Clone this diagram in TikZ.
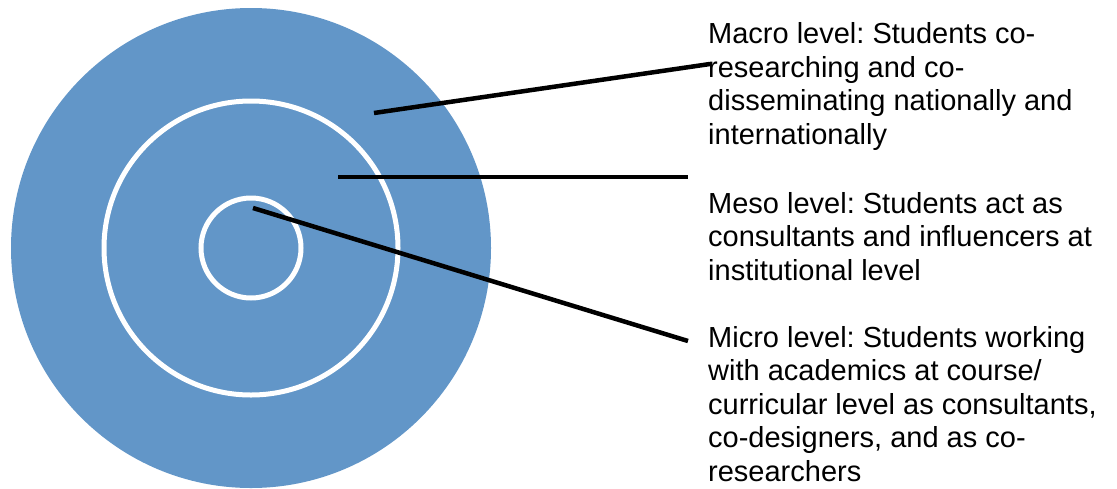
\documentclass[tikz,border=0pt]{standalone}
\usepackage{fontspec}
\setmainfont{Liberation Sans}
\usepackage{tikz}
\usetikzlibrary{positioning,calc}

\definecolor{ringblue}{RGB}{98,150,200}
\frenchspacing

\begin{document}
\begin{tikzpicture}[x=1pt, y=-1pt,
        ring/.style={draw=white, line width=5pt},
        pointer/.style={draw=black, line width=4.5pt}]
      \tikzstyle{level} = [anchor=base west, align=left, inner sep=0pt,
        font=\fontsize{29}{33.5}\selectfont, color=black]
      \useasboundingbox (0,0) rectangle (1117,488);
      % the three levels as rings
      \fill[ringblue] (251,248) circle (240);
      \draw[ring] (251,248) circle (147);
      \draw[ring] (251,248) circle (50);
      % labels (placed by the baseline of their last line)
      \node (macro) [level] at (708,144) {Macro level: Students co-\\researching and co-\\disseminating nationally and\\internationally};
      \node (meso) [level] at (708,280) {Meso level: Students act as\\consultants and influencers at\\institutional level};
      \node (micro) [level] at (708,481) {Micro level: Students working\\with academics at course/\\curricular level as consultants,\\co-designers, and as co-\\researchers};
      % ends of the pointers
      \coordinate (macroin) at (374,113);
      \coordinate (mesoin) at (338,177);
      \coordinate (microin) at (253,208);
      \coordinate (macroout) at (710,64);
      \coordinate (mesoout) at (688,177);
      \coordinate (microout) at (688,341);
      \draw[pointer] (macroin) -- (macroout);
      \draw[pointer] (mesoin) -- (mesoout);
      \draw[pointer] (microin) -- (microout);
    \end{tikzpicture}
\end{document}
